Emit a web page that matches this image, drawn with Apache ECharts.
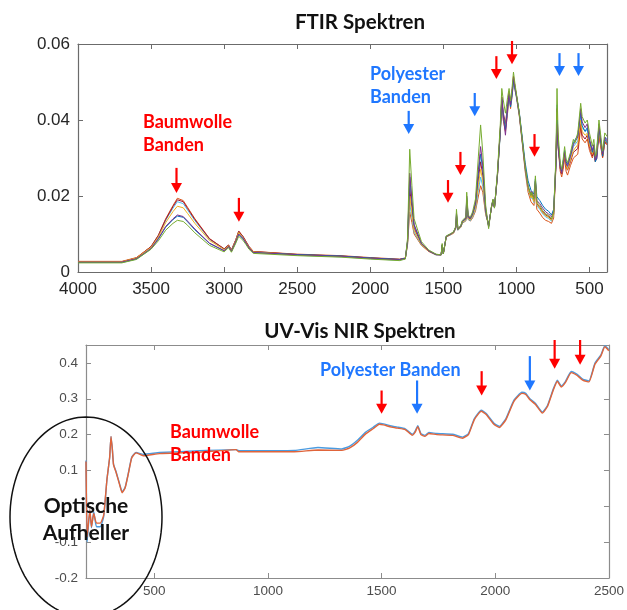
<!DOCTYPE html>
<html><head><meta charset="utf-8">
<script src="https://cdn.jsdelivr.net/npm/echarts@6/dist/echarts.min.js"></script>
<style>html,body{margin:0;padding:0;background:#fff}#c{width:627px;height:610px}</style>
</head><body><div id="c"></div>
<script>
// ---------- FTIR data (absorbance in 1e-3 units) ----------
const ftirWavenumber = [4000,3700,3600,3500,3450,3400,3350,3320,3280,3250,3200,3100,3000,2970,2950,2920,2900,2870,2850,2830,2800,2500,2200,2000,1800,1760,1745,1730,1715,1700,1650,1600,1550,1515,1508,1500,1480,1450,1430,1415,1410,1400,1380,1370,1345,1340,1330,1315,1300,1280,1260,1245,1230,1210,1190,1170,1160,1150,1130,1110,1100,1090,1075,1060,1050,1040,1030,1020,1010,1000,980,960,940,920,900,895,880,870,860,840,820,800,780,760,745,730,722,715,700,690,680,670,660,650,630,610,600,580,560,550,530,515,500,480,470,460,450,435,425,410,395,380];
const ftirGreen = [2.4,2.4,3.3, 6.0,8.2,11,12.8,13.6,13.3,12.3,10.3,7,5.3,6.4,5.2,7.6,9.4,8.3,7.2,6,4.9, 4.3,3.9,3.4,3.0,3.4, 8.8,32.3,22.7,14,8,5.8,4.7, 4.5,7.5,4.8,9.5,10.1,10.6,12,16.5,11.4,12.3,13.6,14.5,21,14.9,14.5,15.8,19.2, 30.5,38.7,31.4,17.5,11.4,17.5,19.2,16.8,26.2,39, 48.3,45.3,41.8,46,48.3,45,48.3,52.6,49.6,47, 41.8,34.9,27.9,22.7,20.1,21,19.2,25.3,18.4,17.5,16.2,15.3,14.9,14,15.8, 29.7,48.3,36.6,28.8,27,29.7,33,29.7,28.8,31.4,34.9,34,36.6, 44.4,40.9,39.2,40,36.6,33.1,34.9,30.5,31.4,40,36.6,31.8,36.6,35.7];
const ftirOrange = [2.8,2.8,3.8, 6.7,9.7,14,17.5,19.4,18.8,17,14,8.8,6.1,7.1,5.8,8.5,10.8,9.3,8,6.7,5.4, 4.7,4.3,3.8,3.4,3.7, 7,15.8,13,10,7,5.4,4.5, 4.6,6.5,4.9,9.2,9.8,10.2,11.5,13.5,11,11.8,12.8,13.5,17,13.8,13.4,14.2,16, 20,22.7,21,15,12.5,17,18.5,17,25,37, 44,40,37,42,46,43,46,50,48,46, 41,34,26.5,21,18.5,19,17.5,21,16.5,15.5,14.3,13.6,13.3,12.8,14.2, 27,41,33,26.5,25,27,30,26.5,25.5,28,30,29.5,31, 38,35,34,35,32,30,31.5,29,29.5,36,33.5,30,34,33.5];
const ftirPurple = [2.6,2.6,3.5, 6.2,8.8,12,14,15,14.6,13.4,11.3,7.6,5.6,6.7,5.4,8,10,8.8,7.6,6.3,5.1, 4.5,4.1,3.6,3.2,3.5, 8.2,26,19,12.5,7.6,5.6,4.6, 4.5,7.2,4.8,9.4,10,10.5,11.8,15.5,11.3,12.2,13.4,14.2,20,14.6,14.2,15.4,18.2, 27,33,28,16.5,11.8,17.3,19,16.9,25.5,37.5, 46,41,36,43,47,44,47,51,48.5,46.5, 41.5,34.5,27.5,22.5,20.5,21.2,19.5,24,18.8,18,16.8,15.8,15.3,14.5,16, 27.5,39,33,27.5,26,28.5,31.5,28.5,27.8,30.5,33.5,33,35.5, 43,39.5,38,39,35,32,33.5,29.5,30.5,39,35.5,31,35.5,34.5];
const ftirBlue = [2.5,2.5,3.4, 6.1,8.7,11.8,13.8,14.7,14.4,13.2,11.1,7.5,5.6,6.7,5.4,7.9,9.9,8.7,7.5,6.3,5.1, 4.6,4.2,3.7,3.3,3.6, 8,25,18.5,12.3,7.5,5.6,4.6, 4.5,7.1,4.8,9.4,10,10.5,11.8,15.3,11.2,12.1,13.3,14.1,19.6,14.5,14.1,15.2,18, 26,31,27,16.2,12,17.3,19,16.9,25.5,37, 45.5,41.5,37.5,43.5,46.5,43.5,46.5,50.5,48.5,46.5, 42,35.5,28.8,24,21.5,22,20.5,24.5,19.8,18.8,17.5,16.5,16,15,16.5, 28,40,33.5,28,26.5,29,32,29,28.3,31,34,33.5,36, 42,38.5,37,38,34.5,31.5,33,29,30,38.5,35,30.5,35,34];
const ftirYellow = [2.7,2.7,3.7, 6.5,9.2,13,15.9,17.3,16.9,15.4,12.8,8.3,5.9,6.9,5.6,8.3,10.4,9,7.8,6.5,5.3, 4.5,4.1,3.6,3.2,3.5, 7.5,20,15.5,11,7.2,5.5,4.6, 4.5,6.8,4.8,9.3,9.9,10.3,11.6,14.3,11.1,11.9,13,13.8,18.3,14.1,13.7,14.7,17, 23,27,24,15.6,12.2,17.2,18.8,17,25.2,37, 45,41,38,43,47,44,47,51,49,46.5, 41.5,34.5,27.3,22,19.5,20.3,18.5,23,17.8,16.8,15.6,14.8,14.4,13.6,15.2, 28.5,42,34.5,27.5,26,28.5,31,28,27,29.5,32,31.5,33.5, 40,37,36,36.5,33.5,31,32.5,29.5,30,37,34,30.5,34.5,34];
const ftirCyan = [2.6,2.6,3.6, 6.6,9.5,13.6,16.8,18.5,18,16.3,13.5,8.6,6,7,5.7,8.4,10.6,9.2,7.9,6.6,5.3, 4.4,4,3.5,3.1,3.5, 7.3,18,14.3,10.5,7.1,5.5,4.5, 4.6,6.6,4.9,9.3,9.8,10.3,11.5,13.8,11,11.8,12.9,13.6,17.6,13.9,13.5,14.4,16.5, 21.5,25,22.5,15.3,12.3,17.1,18.7,17,25,36.5, 44.5,40.5,38,42.5,46.5,43.5,46.5,50,48,46, 41.2,34.2,27,21.8,19.3,20,18.3,22.2,17.5,16.5,15.3,14.5,14.1,13.4,15, 28.8,44,35,27.8,26.3,28.8,31.8,28.5,27.5,30,33,32.5,34.5, 41,38,37,37.5,34.5,32,33.5,30,30.5,38,35,31,35.5,35];
const ftirDarkRed = [2.7,2.7,3.7, 6.7,9.6,13.8,17.2,19,18.5,16.7,13.8,8.7,6.1,7.1,5.8,8.5,10.7,9.3,8,6.7,5.4, 4.6,4.2,3.7,3.3,3.6, 7.8,22,16.8,11.6,7.3,5.5,4.6, 4.5,7,4.8,9.3,9.9,10.4,11.7,14.8,11.2,12,13.2,14,19,14.3,13.9,15,17.5, 24.5,29,25.5,15.9,12.1,17.2,18.9,17,25.3,37.5, 46,42,39,44,47.5,44.5,47.5,51.5,49,46.5, 41.6,34.7,27.6,22.3,19.8,20.6,18.8,23.8,18,17,15.8,15,14.6,13.8,15.4, 28.5,43,34.8,27.2,25.8,28.2,31,27.8,26.8,29,31.5,31,32.5, 39,36,35,36,33,30.5,32,29.2,29.8,36.5,33.8,30.3,34.3,33.8];
const ftirXTicks = [4000,3500,3000,2500,2000,1500,1000,500];
const ftirYTicks = [0,20,40,60];

// ---------- UV-Vis NIR data ----------
const uvWavelength = [200,205,217,224,234,246,263,278,292,304,310,316,321,333,348,359,372,387,401,420,452,524,700,860,872,1116,1220,1325,1360,1395,1430,1464,1490,1508,1543,1569,1604,1635,1647,1659,1673,1690,1708,1743,1812,1856,1882,1908,1938,1960,1995,2018,2047,2082,2117,2134,2151,2177,2207,2230,2256,2273,2290,2308,2334,2360,2386,2412,2438,2464,2482,2499];
const uvOrange = [0.125,-0.085,-0.01,-0.057,-0.02,-0.047,-0.047,-0.024,0.074,0.136,0.195,0.158,0.116,0.093,0.06,0.038,0.051,0.093,0.135,0.149,0.141,0.147,0.151,0.158,0.152,0.152,0.157,0.156,0.163,0.179,0.202,0.217,0.229,0.227,0.221,0.218,0.214,0.198,0.206,0.222,0.2,0.195,0.203,0.2,0.198,0.19,0.2,0.242,0.265,0.256,0.228,0.22,0.242,0.293,0.315,0.312,0.298,0.284,0.26,0.279,0.326,0.349,0.333,0.345,0.373,0.365,0.351,0.347,0.396,0.419,0.445,0.434];
const uvBlue = [0.128,-0.099,-0.01,-0.06,-0.015,-0.057,-0.057,-0.028,0.074,0.136,0.195,0.158,0.118,0.095,0.062,0.04,0.053,0.095,0.137,0.15,0.145,0.15,0.155,0.158,0.155,0.156,0.164,0.16,0.168,0.185,0.207,0.221,0.232,0.23,0.224,0.221,0.216,0.201,0.209,0.225,0.203,0.198,0.206,0.203,0.201,0.193,0.203,0.245,0.268,0.259,0.231,0.223,0.245,0.296,0.318,0.315,0.301,0.287,0.263,0.282,0.329,0.352,0.336,0.348,0.376,0.368,0.354,0.35,0.399,0.422,0.448,0.437];
const uvXTicks = [500,1000,1500,2000,2500];
const uvYTicks = [-0.2,-0.1,0,0.1,0.2,0.3,0.4];
const uvYLabels = [-0.2,-0.1,0.1,0.2,0.3,0.4];

// ---------- annotation arrows (data units) ----------
const ftirArrowX   = [3326,2899,1468,1383,1137,1030,876,1737,1285,705,575];
const ftirArrowTop = [27.4,19.5,24.2,31.6,56.8,60.8,36.3,42.4,47.1,57.6,57.6];
const ftirArrowTip = [20.8,13.2,18.2,25.5,50.8,54.7,30.3,36.3,41,51.6,51.6];
const ftirArrowKind = ['r','r','r','r','r','r','r','b','b','b','b'];
const uvArrowX   = [1500,1656,1940,2152,2261,2373];
const uvArrowTop = [0.323,0.351,0.377,0.419,0.464,0.464];
const uvArrowTip = [0.258,0.258,0.309,0.323,0.384,0.395];
const uvArrowKind = ['r','b','r','b','r','r'];

const RED = '#ff0000', BLUE = '#1f77ff';
const kindColor = k => k === 'r' ? RED : BLUE;

function pairs(xs, ys){ return xs.map((x,i)=>[x, ys[i]]); }

const ftirSeriesDef = [
  ['orange', ftirOrange, '#D95319'],
  ['cyan', ftirCyan, '#4DBEEE'],
  ['darkred', ftirDarkRed, '#A2142F'],
  ['yellow', ftirYellow, '#EDB120'],
  ['blue', ftirBlue, '#0072BD'],
  ['purple', ftirPurple, '#7E2F8E'],
  ['green', ftirGreen, '#77AC30']
];

const series = [];
ftirSeriesDef.forEach(([n, ys, col]) => {
  series.push({ name:n, type:'line', xAxisIndex:0, yAxisIndex:0, data:pairs(ftirWavenumber, ys),
    showSymbol:false, symbol:'none', lineStyle:{width:1, color:col}, itemStyle:{color:col},
    animation:false, silent:true });
});
series.push({ name:'uvOrange', type:'line', xAxisIndex:2, yAxisIndex:2, data:pairs(uvWavelength, uvOrange),
  showSymbol:false, symbol:'none', smooth:0.15, lineStyle:{width:1.4, color:'#E0643A'}, animation:false, silent:true });
series.push({ name:'uvBlue', type:'line', xAxisIndex:2, yAxisIndex:2, data:pairs(uvWavelength, uvBlue),
  showSymbol:false, symbol:'none', smooth:0.15, lineStyle:{width:1.4, color:'#4A9BE0'}, animation:false, silent:true, z:1 });

const topFrame = '#6b6b6b', botFrame = '#8c8c8c';
const LF = '"Liberation Sans", Arial, sans-serif';
const topLabel = {color:'#262626', fontSize:17, fontFamily:LF};
const botLabel = {color:'#4d4d4d', fontSize:13.5, fontFamily:LF};
const plain = v => String(v);

function xAx(grid, inv, min, max, pos, frame, ticks, label, margin){
  return { type:'value', gridIndex:grid, inverse:inv, min:min, max:max, position:pos,
    axisLine:{onZero:false, lineStyle:{color:frame, width:1.2}}, splitLine:{show:false},
    axisTick:{inside:true, length:5, customValues:ticks, lineStyle:{color:frame}},
    axisLabel: label ? Object.assign({customValues:ticks, margin:margin, formatter:plain}, label) : {show:false} };
}
const xAxis = [
  xAx(0, true, 380, 4000, 'bottom', topFrame, ftirXTicks, topLabel, 9),
  xAx(0, true, 380, 4000, 'top', topFrame, ftirXTicks, null),
  xAx(1, false, 200, 2500, 'bottom', botFrame, uvXTicks, botLabel, 6),
  xAx(1, false, 200, 2500, 'top', botFrame, uvXTicks, null)
];
const yAxis = [
  { type:'value', gridIndex:0, min:0, max:60, position:'left',
    axisLine:{show:true, onZero:false, lineStyle:{color:topFrame, width:1.2}}, splitLine:{show:false},
    axisTick:{show:true, inside:true, length:5, customValues:ftirYTicks, lineStyle:{color:topFrame}},
    axisLabel:Object.assign({customValues:ftirYTicks, margin:8,
      formatter:v => v === 0 ? '0' : (v/1000).toFixed(2)}, topLabel) },
  { type:'value', gridIndex:0, min:0, max:60, position:'right',
    axisLine:{show:true, onZero:false, lineStyle:{color:topFrame, width:1.2}}, splitLine:{show:false},
    axisTick:{show:true, inside:true, length:5, customValues:ftirYTicks, lineStyle:{color:topFrame}},
    axisLabel:{show:false} },
  { type:'value', gridIndex:1, min:-0.2, max:0.45, position:'left',
    axisLine:{show:true, onZero:false, lineStyle:{color:botFrame, width:1.2}}, splitLine:{show:false},
    axisTick:{show:true, inside:true, length:5, customValues:uvYTicks, lineStyle:{color:botFrame}},
    axisLabel:Object.assign({customValues:uvYLabels, margin:8,
      formatter:v => (Math.round(v*10)/10).toString()}, botLabel) },
  { type:'value', gridIndex:1, min:-0.2, max:0.45, position:'right',
    axisLine:{show:true, onZero:false, lineStyle:{color:botFrame, width:1.2}}, splitLine:{show:false},
    axisTick:{show:true, inside:true, length:5, customValues:uvYTicks, lineStyle:{color:botFrame}},
    axisLabel:{show:false} }
];

const FONT = 'Lato, "Open Sans", sans-serif';
function txt(x, y, s, color, size, align){
  return { type:'text', x:x, y:y, z:100, silent:true,
    style:{ text:s, fill:color, font:'bold ' + size + 'px ' + FONT, textAlign:align || 'left', textVerticalAlign:'middle' } };
}

const option = {
  backgroundColor:'#ffffff',
  animation:false,
  grid:[
    {left:78, top:44, width:529, height:228},
    {left:86, top:345, width:528, height:233}
  ],
  xAxis, yAxis, series
};

const chart = echarts.init(document.getElementById('c'), null, {renderer:'canvas'});
chart.setOption(option);

// annotations positioned through the chart's own scales
const gfx = [
  txt(360, 22, 'FTIR Spektren', '#111', 20.5, 'center'),
  txt(360, 331, 'UV-Vis NIR Spektren', '#111', 20.5, 'center'),
  txt(143, 122, 'Baumwolle', RED, 18),
  txt(143, 145, 'Banden', RED, 18),
  txt(370, 74, 'Polyester', BLUE, 18),
  txt(370, 97, 'Banden', BLUE, 18),
  txt(320, 370, 'Polyester Banden', BLUE, 18),
  txt(170, 432, 'Baumwolle', RED, 18),
  txt(170, 455, 'Banden', RED, 18),
  txt(86, 506, 'Optische', '#111', 21, 'center'),
  txt(86, 533, 'Aufheller', '#111', 21, 'center')
];
function addArrows(finder, xs, tops, tips, kinds){
  xs.forEach((x, i) => {
    const p1 = chart.convertToPixel(finder, [x, tops[i]]);
    const p2 = chart.convertToPixel(finder, [x, tips[i]]);
    const c = kindColor(kinds[i]);
    const head = 10, hw = 5.5;
    gfx.push({ type:'line', z:90, silent:true, shape:{x1:p1[0], y1:p1[1], x2:p2[0], y2:p2[1]-head+1},
      style:{stroke:c, lineWidth:2.2} });
    gfx.push({ type:'polygon', z:90, silent:true,
      shape:{points:[[p2[0]-hw, p2[1]-head],[p2[0]+hw, p2[1]-head],[p2[0], p2[1]]]}, style:{fill:c} });
  });
}
addArrows({xAxisIndex:0, yAxisIndex:0}, ftirArrowX, ftirArrowTop, ftirArrowTip, ftirArrowKind);
addArrows({xAxisIndex:2, yAxisIndex:2}, uvArrowX, uvArrowTop, uvArrowTip, uvArrowKind);

// ellipse outline around the optical brightener region
const ell = [];
for (let i = 0; i < 120; i++) {
  const t = i / 120 * Math.PI * 2;
  ell.push([86 + 76 * Math.cos(t), 517 + 100 * Math.sin(t)]);
}
gfx.push({ type:'polygon', z:99, silent:true, shape:{points:ell}, style:{fill:'none', stroke:'#111', lineWidth:1.5} });

chart.setOption({ graphic: gfx });
</script></body></html>
